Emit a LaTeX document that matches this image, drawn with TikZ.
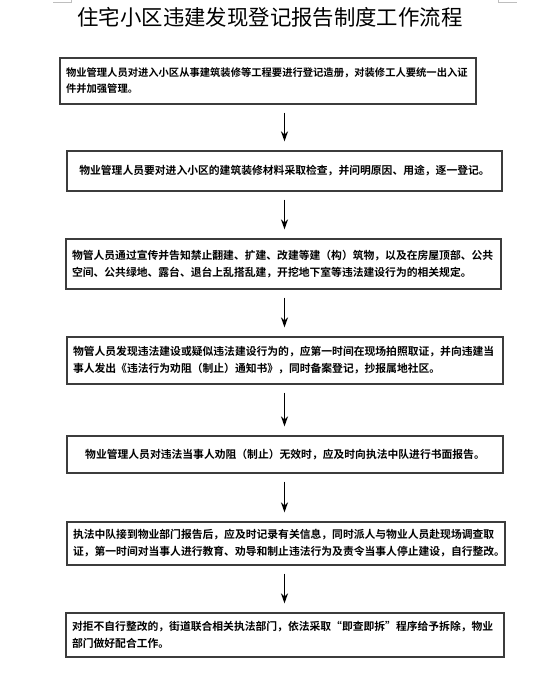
\documentclass[tikz,border=0pt]{standalone}
\usepackage{fontspec}
\setmainfont{Noto Sans CJK SC}[BoldFont={Noto Sans CJK SC Bold}]
\usepackage{tikz}
\usetikzlibrary{arrows.meta,positioning,calc}
\usepackage{xcolor}
\definecolor{boxline}{RGB}{60,60,60}
\definecolor{markgrey}{RGB}{190,190,190}

\begin{document}
\begin{tikzpicture}[
    x=1pt, y=-1pt,
    stepbox/.style={draw=boxline, line width=1.3pt, inner xsep=6pt, inner ysep=0pt,
                    align=left, font=\bfseries\fontsize{10.8}{17}\selectfont},
    onebox/.style ={stepbox, align=center},
    flow/.style   ={-{Stealth[length=10pt, width=7pt]}, line width=1.6pt, black,
                    shorten <=8pt, shorten >=9pt},
    ttl/.style    ={font=\fontsize{21.4}{24}\selectfont}
]
\useasboundingbox (0,0) rectangle (550,675);

% page corner marks
\draw[markgrey, line width=0.6pt] (53,2) -- (71,2) -- (71,0);
\draw[markgrey, line width=0.6pt] (498,0) -- (498,2) -- (517,2);

% Title
\node[ttl] (title) at (270,17) {住宅小区违建发现登记报告制度工作流程};

% Steps
\node[stepbox, minimum width=416pt, minimum height=46pt, text width=404pt,
      font=\bfseries\fontsize{10.3}{16}\selectfont] (b1) at (268,81)
  {物业管理人员对进入小区从事建筑装修等工程要进行登记造册，对装修工人要统一出入证\\
   件并加强管理。};

\node[onebox, minimum width=435pt, minimum height=40pt] (b2) at (284.5,171)
  {物业管理人员要对进入小区的建筑装修材料采取检查，并问明原因、用途，逐一登记。};

\node[stepbox, minimum width=435pt, minimum height=50pt, text width=423pt] (b3) at (283.5,264)
  {物管人员通过宣传并告知禁止翻建、扩建、改建等建（构）筑物，以及在房屋顶部、公共\\
   空间、公共绿地、露台、退台上乱搭乱建，开挖地下室等违法建设行为的相关规定。};

\node[stepbox, minimum width=436pt, minimum height=47pt, text width=424pt] (b4) at (285,360.5)
  {物管人员发现违法建设或疑似违法建设行为的，应第一时间在现场拍照取证，并向违建当\\
   事人发出《违法行为劝阻（制止）通知书》，同时备案登记，抄报属地社区。};

\node[onebox, minimum width=436pt, minimum height=37pt] (b5) at (285,454.5)
  {物业管理人员对违法当事人劝阻（制止）无效时，应及时向执法中队进行书面报告。};

\node[stepbox, minimum width=438pt, minimum height=43pt, text width=426pt] (b6) at (286,543.5)
  {执法中队接到物业部门报告后，应及时记录有关信息，同时派人与物业人员赴现场调查取\\
   证，第一时间对当事人进行教育、劝导和制止违法行为及责令当事人停止建设，自行整改。};

\node[stepbox, minimum width=438pt, minimum height=44pt, text width=426pt] (b7) at (285,635)
  {对拒不自行整改的，街道联合相关执法部门，依法采取“即查即拆”程序给予拆除，物业\\
   部门做好配合工作。};

% Arrows
\draw[flow] (b1.south -| b2.north) -- (b2.north);
\draw[flow] (b2.south) -- (b3.north -| b2.south);
\draw[flow] (b3.south -| b2.south) -- (b4.north -| b2.south);
\draw[flow] (b4.south -| b2.south) -- (b5.north -| b2.south);
\draw[flow] (b5.south -| b2.south) -- (b6.north -| b2.south);
\draw[flow] (b6.south -| b2.south) -- (b7.north -| b2.south);
\end{tikzpicture}
\end{document}
